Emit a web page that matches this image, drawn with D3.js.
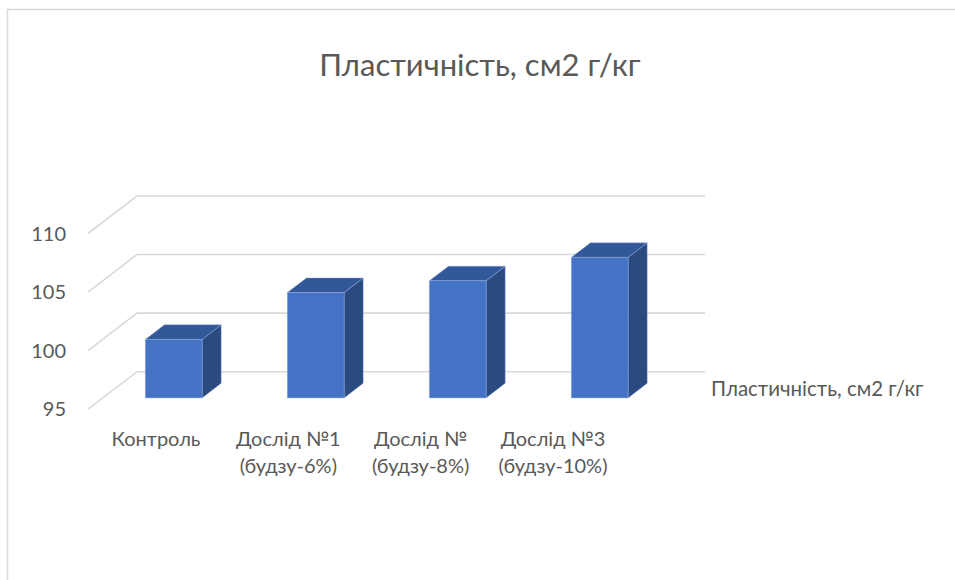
<!DOCTYPE html>
<html>
<head>
<meta charset="utf-8">
<script src="https://cdn.jsdelivr.net/npm/d3@7"></script>
<style>
  html, body { margin: 0; padding: 0; background: #fff; }
  svg { display: block; }
  text { font-family: Lato, "Open Sans", sans-serif; fill: #595959; }
</style>
</head>
<body>
<svg id="chart" width="955" height="580"></svg>
<script>
// Plasticity per variant
const chartTitle = "Пластичність, см2 г/кг";
const seriesName = "Пластичність, см2 г/кг";
const categories = ["Контроль", "Дослід №1\n(будзу-6%)", "Дослід №\n(будзу-8%)", "Дослід №3\n(будзу-10%)"];
const values = [100, 104, 105, 107];
const yTicks = [95, 100, 105, 110];

const svg = d3.select("#chart");

// chart area frame
svg.append("rect")
  .attr("x", 7.5).attr("y", 9.5)
  .attr("width", 1000).attr("height", 600)
  .attr("fill", "#fff").attr("stroke", "#D9D9D9").attr("stroke-width", 1.5);

// 3D box geometry: front plane, depth vector to the back wall
const front = { left: 88, right: 656 };
const depth = { dx: 49, dy: -37.5 };

// value scale on the front plane
const yFront = d3.scaleLinear().domain([95, 110]).range([409.2, 233.5]);
const yBack = v => yFront(v) + depth.dy;

// category band scale on the front plane
const x = d3.scaleBand().domain(categories).range([front.left, front.right])
  .paddingInner(0.6).paddingOuter(0.3);

// gridlines: side wall diagonal + back wall line
const grid = svg.append("g").attr("fill", "none").attr("stroke", "#D9D9D9").attr("stroke-width", 1.6);
yTicks.forEach(v => {
  grid.append("path").attr("d", d3.line()([
    [front.left, yFront(v)],
    [front.left + depth.dx, yBack(v)],
    [front.right + depth.dx, yBack(v)]
  ]));
});

// value axis labels
svg.append("g").selectAll("text").data(yTicks).join("text")
  .attr("x", 66).attr("y", d => yFront(d) + 2)
  .attr("text-anchor", "end").attr("dominant-baseline", "middle")
  .style("font-size", "20px")
  .text(d => d);

// bars: front face sits 30% into the depth, bar depth is 39% of it
const barT = 0.3, barD = 0.39;
const off = { dx: depth.dx * barT, dy: depth.dy * barT };
const bd = { dx: depth.dx * barD, dy: depth.dy * barD };
const bars = svg.append("g");
categories.forEach((c, i) => {
  const x0 = x(c) + off.dx, x1 = x0 + x.bandwidth();
  const yTop = yFront(values[i]) + off.dy;
  const yBot = yFront(95) + off.dy;
  const edge = "rgba(150,175,225,0.55)";
  // right side face
  bars.append("path")
    .attr("d", d3.line()([[x1, yBot], [x1 + bd.dx, yBot + bd.dy], [x1 + bd.dx, yTop + bd.dy], [x1, yTop]]) + "Z")
    .attr("fill", "#2B4A80").attr("stroke", edge).attr("stroke-width", 0.8);
  // top face
  bars.append("path")
    .attr("d", d3.line()([[x0, yTop], [x0 + bd.dx, yTop + bd.dy], [x1 + bd.dx, yTop + bd.dy], [x1, yTop]]) + "Z")
    .attr("fill", "#33589A").attr("stroke", edge).attr("stroke-width", 0.8);
  // front face
  bars.append("rect")
    .attr("x", x0).attr("y", yTop)
    .attr("width", x.bandwidth()).attr("height", yBot - yTop)
    .attr("fill", "#4472C4").attr("stroke", edge).attr("stroke-width", 0.8);
});

// category labels
const xl = d3.scalePoint().domain(categories).range([156, 553]);
const cat = svg.append("g");
categories.forEach(c => {
  const t = cat.append("text")
    .attr("x", xl(c)).attr("y", 446)
    .attr("text-anchor", "middle")
    .style("font-size", "20px");
  c.split("\n").forEach((line, j) => {
    t.append("tspan").attr("x", xl(c)).attr("dy", j === 0 ? 0 : 27).text(line);
  });
});

// legend entry
svg.append("text")
  .attr("x", 711).attr("y", 396)
  .style("font-size", "20.5px")
  .text(seriesName);

// title
svg.append("text")
  .attr("x", 480).attr("y", 76)
  .attr("text-anchor", "middle")
  .style("font-size", "31px")
  .text(chartTitle);
</script>
</body>
</html>
